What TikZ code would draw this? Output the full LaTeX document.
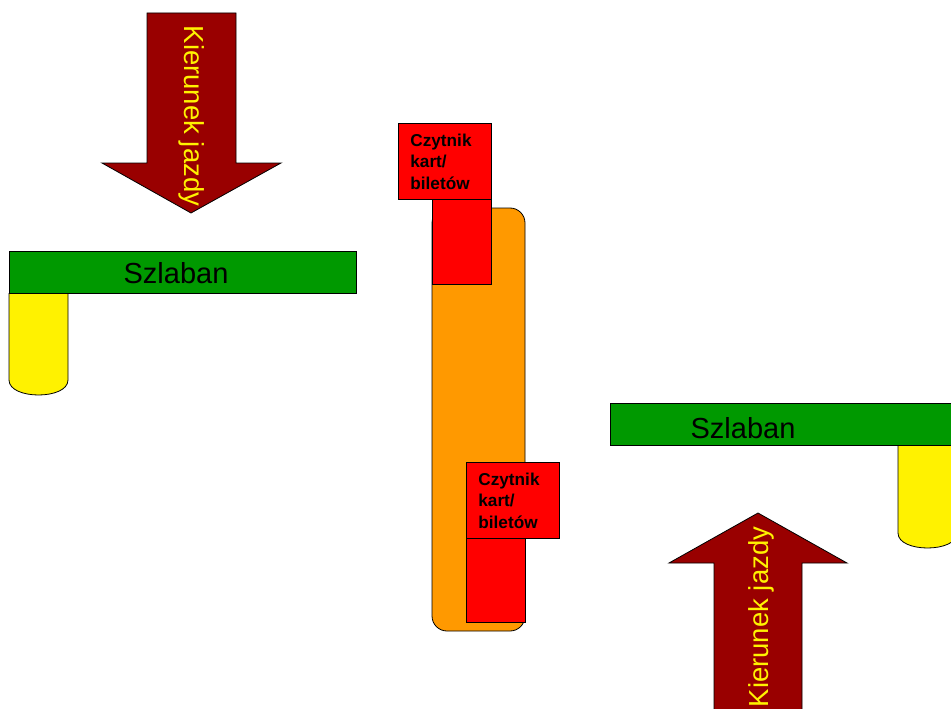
\documentclass[tikz,border=0pt]{standalone}
\usepackage{fontspec}
\setmainfont{Liberation Sans}
\usetikzlibrary{positioning}
\definecolor{dirred}{RGB}{153,0,0}
\definecolor{gategreen}{RGB}{0,153,0}
\definecolor{postorange}{RGB}{255,153,0}

\begin{document}
\begin{tikzpicture}[x=1pt,y=-1pt,line width=.8pt,
  gatebar/.style={draw,fill=gategreen},
  gatepost/.style={draw,fill=yellow},
  dirarrow/.style={draw,fill=dirred},
  dirtext/.style={text=yellow,font=\fontsize{27.5}{30}\selectfont},
  gatetext/.style={font=\fontsize{29}{32}\selectfont},
  reader/.style={draw,fill=red,anchor=north west,minimum width=93pt,minimum height=76pt,
    inner xsep=12pt,text width=69pt,align=left,font=\bfseries\fontsize{17.2}{21.5}\selectfont}]
       \useasboundingbox (0,0) rectangle (951,709);
       \clip (0,0) rectangle (951,709);
       % direction arrows
       \draw [dirarrow] (147,13) -- (236,13) -- (236,163) -- (281,163) -- (191,213)
         -- (102,163) -- (147,163) -- cycle;
       \node [dirtext,rotate=-90] (dir1) at (192,116) {Kierunek jazdy};
       \draw [dirarrow] (714,720) -- (714,563) -- (669,563) -- (758,513) -- (847,563)
         -- (802,563) -- (802,720) -- cycle;
       \node [dirtext,rotate=90] (dir2) at (761,617) {Kierunek jazdy};
       % barriers
       \draw [gatepost] (9,293) -- (9,380) .. controls (9,400) and (68,400) .. (68,380) -- (68,293);
       \draw [gatebar] (9,251) rectangle (356,293);
       \node [gatetext] (gate1) at (176,273) {Szlaban};
       \draw [gatepost] (898,445) -- (898,533) .. controls (898,553) and (957,553) .. (957,533) -- (957,445);
       \draw [gatebar] (610,403) rectangle (970,445);
       \node [gatetext] (gate2) at (743,428) {Szlaban};
       % island with readers
       \draw [fill=postorange,rounded corners=15pt] (432,208) rectangle (525,631);
       \draw [fill=red] (432,199) rectangle (491,284);
       \node [reader] (read1) at (398,123) {Czytnik\\kart/\\biletów};
       \draw [fill=red] (466,538) rectangle (525,622);
       \node [reader] (read2) at (466,462) {Czytnik\\kart/\\biletów};
     \end{tikzpicture}
\end{document}
